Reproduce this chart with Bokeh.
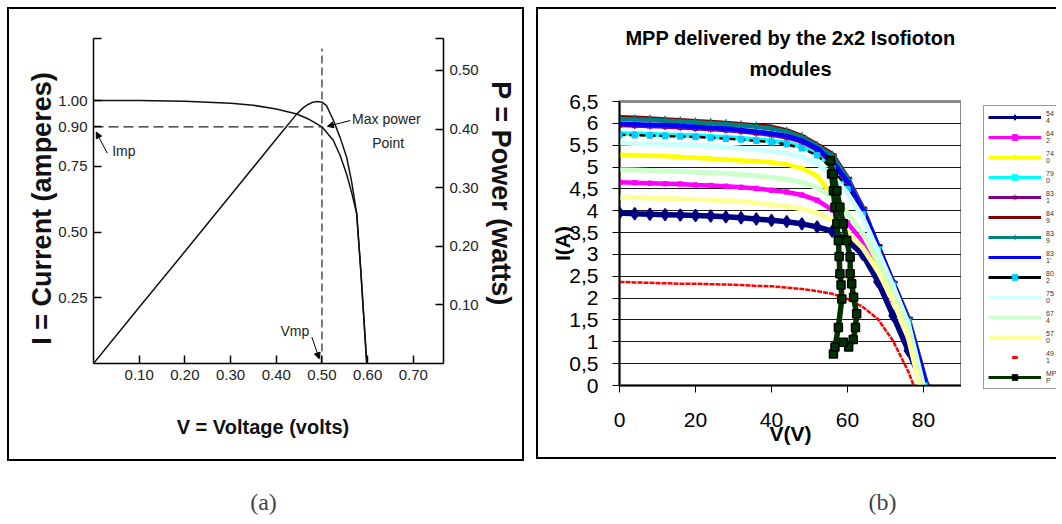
from bokeh.plotting import figure
from bokeh.models import (Range1d, LinearAxis, FixedTicker, Arrow, NormalHead, Label,
                          Legend, LegendItem, Title, CustomJSTickFormatter)
from bokeh.layouts import row, column
from bokeh.embed import file_html
from bokeh.resources import INLINE

# ---------------- Panel (a): ideal cell I-V and P-V curves ----------------
A_V = [0.0, 0.10, 0.20, 0.30, 0.35, 0.40, 0.445, 0.47, 0.50, 0.525, 0.54, 0.554,
       0.565, 0.576, 0.585, 0.592, 0.598]
A_I = [1.00, 1.00, 0.997, 0.99, 0.982, 0.968, 0.949, 0.93, 0.90, 0.848, 0.79, 0.72,
       0.65, 0.57, 0.35, 0.16, 0.0]
A_PV = [0.0, 0.10, 0.20, 0.30, 0.40, 0.445, 0.46, 0.47, 0.48, 0.49, 0.50, 0.51,
        0.525, 0.54, 0.554, 0.565, 0.576, 0.585, 0.592, 0.598]
A_P = [0.0, 0.096, 0.191, 0.287, 0.383, 0.426, 0.437, 0.442, 0.446, 0.447, 0.446, 0.44,
       0.415, 0.385, 0.352, 0.31, 0.256, 0.16, 0.075, 0.0]
VMP, IMP = 0.50, 0.90
A_X_TICKS = [0.10, 0.20, 0.30, 0.40, 0.50, 0.60, 0.70]
A_I_TICKS = [0.25, 0.50, 0.75, 0.90, 1.00]
A_P_TICKS = [0.10, 0.20, 0.30, 0.40, 0.50]
A_X_MAX, A_I_MAX, A_P_MAX = 0.766, 1.236, 0.5546
A_VLINE_TOP = 1.198

# ---------------- Panel (b): 2x2 Isofioton modules ----------------
B_LABELS = ["544", "642", "740", "790", "831", "849", "839", "831'", "802", "750",
            "674", "570", "491"]
B_COLORS = ["#000080", "#FF00FF", "#FFFF00", "#00FFFF", "#800080", "#800000", "#008080",
            "#0000FF", "#000000", "#CCFFFF", "#CCFFCC", "#FFFF99", "#FF0000"]
V_GRID = [0, 4, 8, 12, 16, 20, 24, 28, 32, 36, 40, 44, 48, 52, 56, 60, 64, 68, 72, 76]
I_544 = [3.95, 3.93, 3.92, 3.91, 3.90, 3.89, 3.88, 3.86, 3.84, 3.81, 3.78, 3.75, 3.70, 3.63, 3.53, 3.32, 3.00, 2.38, 1.60, 0.80]
I_642 = [4.65, 4.64, 4.63, 4.62, 4.61, 4.59, 4.58, 4.56, 4.54, 4.51, 4.47, 4.43, 4.36, 4.24, 4.02, 3.72, 3.30, 2.70, 1.95, 1.10]
I_740 = [5.28, 5.27, 5.26, 5.25, 5.23, 5.21, 5.19, 5.17, 5.15, 5.13, 5.11, 5.06, 4.97, 4.80, 4.35, 3.95, 3.48, 2.80, 2.05, 1.22]
I_790 = [5.77, 5.76, 5.75, 5.74, 5.73, 5.72, 5.70, 5.68, 5.66, 5.63, 5.60, 5.55, 5.46, 5.30, 5.00, 4.55, 3.95, 3.15, 2.32, 1.48]
I_831 = [5.96, 5.95, 5.94, 5.93, 5.91, 5.89, 5.87, 5.85, 5.82, 5.78, 5.74, 5.68, 5.58, 5.40, 5.10, 4.64, 4.00, 3.18, 2.35, 1.50]
I_849 = [6.14, 6.13, 6.11, 6.09, 6.07, 6.05, 6.03, 6.01, 5.98, 5.95, 5.92, 5.84, 5.71, 5.51, 5.30, 4.76, 4.08, 3.22, 2.38, 1.56]
I_839 = [6.10, 6.09, 6.08, 6.06, 6.04, 6.02, 6.00, 5.98, 5.95, 5.92, 5.88, 5.81, 5.68, 5.48, 5.26, 4.73, 4.05, 3.20, 2.36, 1.54]
I_831B = [5.99, 5.98, 5.97, 5.96, 5.94, 5.92, 5.90, 5.88, 5.85, 5.81, 5.77, 5.71, 5.61, 5.43, 5.13, 4.67, 4.03, 3.20, 2.36, 1.51]
I_802 = [5.74, 5.73, 5.72, 5.71, 5.70, 5.69, 5.67, 5.65, 5.63, 5.60, 5.57, 5.52, 5.43, 5.27, 4.97, 4.50, 3.92, 3.12, 2.30, 1.46]
I_750 = [5.55, 5.54, 5.53, 5.52, 5.51, 5.50, 5.48, 5.46, 5.43, 5.40, 5.36, 5.31, 5.23, 5.08, 4.82, 4.40, 3.85, 3.08, 2.28, 1.42]
I_674 = [4.94, 4.93, 4.92, 4.91, 4.90, 4.88, 4.87, 4.85, 4.83, 4.80, 4.76, 4.72, 4.65, 4.53, 4.32, 3.95, 3.48, 2.85, 2.10, 1.25]
I_570 = [4.31, 4.30, 4.29, 4.28, 4.27, 4.26, 4.24, 4.23, 4.21, 4.18, 4.14, 4.10, 4.04, 3.95, 3.78, 3.52, 3.15, 2.62, 1.95, 1.10]
I_491 = [2.37, 2.36, 2.35, 2.34, 2.33, 2.33, 2.32, 2.31, 2.30, 2.28, 2.27, 2.24, 2.21, 2.16, 2.10, 1.98, 1.80, 1.52, 1.02, 0.32]
B_VOC = [80.0, 80.9, 80.5, 80.5, 80.8, 81.0, 80.9, 80.8, 80.3, 80.0, 79.5, 79.0, 77.4]
MPP_V = [56.3, 56.7, 57.6, 58.5, 58.3, 58.0, 57.8, 57.6, 57.2, 56.7, 56.3, 55.8, 55.5,
         56.3, 57.2, 58.0, 58.9, 59.8, 60.7, 60.7, 61.1, 61.6, 62.4, 62.1, 61.5, 60.3, 58.9]
MPP_I = [0.72, 0.88, 1.33, 1.98, 2.30, 2.56, 2.95, 3.32, 3.70, 4.08, 4.46, 4.84, 5.15,
         4.84, 4.46, 4.08, 3.70, 3.32, 2.94, 2.56, 2.33, 2.02, 1.64, 1.33, 1.05, 0.88, 0.99]
B_X_TICKS = [0, 20, 40, 60, 80]
B_Y_TICKS = [0, 0.5, 1, 1.5, 2, 2.5, 3, 3.5, 4, 4.5, 5, 5.5, 6, 6.5]
B_X_MAX, B_Y_MAX = 90, 6.5
B_TITLE_1 = "MPP delivered by the 2x2 Isofioton"
B_TITLE_2 = "modules"

SANS = "Liberation Sans"

# ======================= figure (a) =======================
pa = figure(width=517, height=454, x_range=Range1d(0, A_X_MAX), y_range=Range1d(0, A_I_MAX),
            output_backend="svg", toolbar_location=None,
            min_border_left=84, min_border_right=83, min_border_top=29, min_border_bottom=100)
pa.frame_align = False
pa.styles = {"border": "2px solid black"}
pa.margin = (7, 0, 0, 7)
pa.outline_line_color = None
pa.xgrid.visible = False
pa.ygrid.visible = False
pa.extra_y_ranges = {"p": Range1d(0, A_P_MAX)}
pa.add_layout(LinearAxis(y_range_name="p"), "right")

pa.xaxis.ticker = FixedTicker(ticks=A_X_TICKS)
pa.xaxis.formatter = CustomJSTickFormatter(code="return tick.toFixed(2);")
pa.yaxis[0].ticker = FixedTicker(ticks=A_I_TICKS + [A_I_MAX])
pa.yaxis[0].formatter = CustomJSTickFormatter(code="return tick > 1.1 ? '' : tick.toFixed(2);")
pa.yaxis[1].ticker = FixedTicker(ticks=A_P_TICKS + [A_P_MAX])
pa.yaxis[1].formatter = CustomJSTickFormatter(code="return tick > 0.52 ? '' : tick.toFixed(2);")
for ax in pa.axis:
    ax.axis_line_color = "black"
    ax.axis_line_width = 1.5
    ax.major_tick_line_width = 1.5
    ax.major_tick_in = 8
    ax.major_tick_out = 0
    ax.minor_tick_line_color = None
    ax.major_label_text_font = SANS
    ax.major_label_text_font_size = "15px"
    ax.major_label_text_color = "#222222"
    ax.axis_label_text_font = SANS
    ax.axis_label_text_font_style = "bold"
    ax.axis_label_text_color = "#111111"
pa.xaxis.major_label_standoff = 6
pa.xaxis.axis_label = "V  =  Voltage (volts)"
pa.xaxis.axis_label_text_font_size = "20px"
pa.xaxis.axis_label_standoff = 33
pa.yaxis[0].axis_label = "I  =  Current (amperes)"
pa.yaxis[1].axis_label = "P  =  Power (watts)"
for ax in pa.yaxis:
    ax.axis_label_text_font_size = "27px"
    ax.major_label_standoff = 6
pa.yaxis[0].axis_label_standoff = -2
pa.yaxis[1].axis_label_standoff = 4

pa.line(A_V, A_I, line_color="#111111", line_width=1.5)
pa.line(A_PV, A_P, line_color="#111111", line_width=1.5, y_range_name="p")
pa.line([0, VMP], [IMP, IMP], line_color="#222222", line_width=1.4, line_dash="10 5")
pa.line([VMP, VMP], [0, A_VLINE_TOP], line_color="#222222", line_width=1.2, line_dash="8 4")

for txt, x, y in [("Max power", 0.566, 0.93), ("Point", 0.61, 0.84), ("Imp", 0.041, 0.81),
                  ("Vmp", 0.409, 0.125)]:
    pa.add_layout(Label(x=x, y=y, text=txt, text_font=SANS, text_font_size="14px",
                        text_baseline="middle", text_align="left", text_color="#222222"))
for xs, ys, xe, ye in [(0.562, 0.924, 0.512, 0.902), (0.03, 0.80, 0.006, 0.88),
                       (0.478, 0.10, 0.494, 0.018)]:
    pa.add_layout(Arrow(end=NormalHead(size=6, fill_color="black", line_color="black"),
                        x_start=xs, y_start=ys, x_end=xe, y_end=ye,
                        line_color="black", line_width=1))

# ======================= figure (b) =======================
pb = figure(width=425, height=452, x_range=Range1d(0, B_X_MAX), y_range=Range1d(0, B_Y_MAX),
            output_backend="svg", toolbar_location=None,
            min_border_left=81, min_border_right=2, min_border_top=92, min_border_bottom=76)
pb.frame_align = False
pb.styles = {"border-left": "2px solid black", "border-top": "2px solid black",
             "border-bottom": "2px solid black"}
pb.margin = (7, 0, 0, 12)
pb.outline_line_color = "#8a8a8a"
pb.outline_line_width = 3
pb.xgrid.visible = False
pb.ygrid.ticker = FixedTicker(ticks=B_Y_TICKS)
pb.ygrid.grid_line_color = "#1a1a1a"
pb.ygrid.grid_line_width = 1
pb.xaxis.ticker = FixedTicker(ticks=B_X_TICKS)
pb.yaxis.ticker = FixedTicker(ticks=B_Y_TICKS)
pb.yaxis.formatter = CustomJSTickFormatter(code="return tick.toString().replace('.', ',');")
for ax in pb.axis:
    ax.axis_line_color = "black"
    ax.axis_line_width = 1.5
    ax.major_tick_in = 0
    ax.major_tick_out = 7
    ax.minor_tick_line_color = None
    ax.major_label_text_font = SANS
    ax.major_label_text_font_size = "21px"
    ax.major_label_text_color = "black"
    ax.axis_label_text_font = SANS
    ax.axis_label_text_font_size = "21px"
    ax.axis_label_text_font_style = "bold"
    ax.axis_label_text_color = "black"
pb.xaxis.major_label_standoff = 20
pb.yaxis.major_label_standoff = 14
pb.xaxis.axis_label = "V(V)"
pb.yaxis.axis_label = "I(A)"
pb.xaxis.axis_label_standoff = -8
pb.yaxis.axis_label_standoff = -8

pb.add_layout(Title(text=B_TITLE_2, align="center", text_font=SANS, text_font_size="20px",
                    text_font_style="bold", text_color="black", offset=21, standoff=44), "above")
pb.add_layout(Title(text=B_TITLE_1, align="center", text_font=SANS, text_font_size="20px",
                    text_font_style="bold", text_color="black", offset=21, standoff=-30), "above")

# legend figure (right part of panel b)
lf = figure(width=95, height=452, x_range=Range1d(0, 1), y_range=Range1d(0, 1),
            output_backend="svg", toolbar_location=None, x_axis_location=None,
            y_axis_location=None, min_border=0)
lf.frame_align = False
lf.styles = {"border-top": "2px solid black", "border-bottom": "2px solid black"}
lf.margin = (7, 0, 0, 0)
lf.outline_line_color = None
lf.grid.visible = False
HIDDEN = [-5]   # legend proxies sit outside the legend figure's visible range

CURVES = [I_544, I_642, I_740, I_790, I_831, I_849, I_839, I_831B, I_802, I_750, I_674, I_570, I_491]
MARKERS = ["diamond", "square", "triangle", "square", "asterisk", "dash", "cross", "dash",
           "square", None, None, None, "dash"]
MSIZES = [12, 4, 4, 4, 7, 9, 10, 8, 5, 0, 0, 0, 6]
LWIDTHS = [5.5, 4.5, 4.5, 4.5, 4.5, 4.5, 4.5, 4.5, 2.5, 5, 5, 5, 2.5]
items = []
for lab, col, cur, voc, mk, ms, lw in zip(B_LABELS, B_COLORS, CURVES, B_VOC, MARKERS, MSIZES, LWIDTHS):
    vs = V_GRID + [voc]
    cs = cur + [0.0]
    rends = []
    if lab == "491":
        pb.line(vs, cs, line_color=col, line_width=lw, line_dash="5 1")
        rends.append(lf.scatter(HIDDEN, HIDDEN, marker="dash", size=ms, line_color=col,
                                line_width=3))
    else:
        dash = "6 4" if lab == "802" else "solid"
        pb.line(vs, cs, line_color=col, line_width=lw, line_dash=dash)
        rends.append(lf.line(HIDDEN, HIDDEN, line_color=col, line_width=3))
        if mk is not None:
            mcol = "#00CCFF" if lab == "802" else col
            pb.scatter(vs, cs, marker=mk, size=ms, line_color=mcol, fill_color=mcol,
                       line_width=1.5)
            rends.append(lf.scatter(HIDDEN, HIDDEN, marker=mk, size=4, line_color=mcol,
                                    fill_color=mcol, line_width=1))
    items.append(LegendItem(label=lab[:2] + "\n" + lab[2:], renderers=rends))

pb.line(MPP_V, MPP_I, line_color="#003300", line_width=5.5)
pb.scatter(MPP_V, MPP_I, marker="square", size=8, fill_color="#003300",
           line_color="black", line_width=1.5)
items.append(LegendItem(label="MP\nP", renderers=[
    lf.line(HIDDEN, HIDDEN, line_color="#003300", line_width=3),
    lf.scatter(HIDDEN, HIDDEN, marker="square", size=5, fill_color="black", line_color="black")]))

legend = Legend(items=items, location=(22, 72), margin=0, padding=4, spacing=6,
                glyph_width=53, glyph_height=14, label_height=14, label_standoff=5,
                label_text_font=SANS, label_text_font_size="7px", label_text_color="#333333",
                border_line_color="#333333", border_line_width=1.2,
                background_fill_color="white")
lf.add_layout(legend)

# ======================= captions =======================
pc = figure(width=1062, height=59, x_range=Range1d(0, 1062), y_range=Range1d(0, 59),
            output_backend="svg", toolbar_location=None, x_axis_location=None,
            y_axis_location=None, min_border=0)
pc.frame_align = False
pc.outline_line_color = None
pc.grid.visible = False
for txt, x in [("(a)", 263), ("(b)", 882)]:
    pc.add_layout(Label(x=x, y=19, text=txt, text_font="Liberation Serif",
                        text_font_size="24px", text_align="center", text_baseline="middle"))

layout = column(row(pa, pb, lf), pc)
open("out.html", "w").write(file_html(layout, INLINE))
